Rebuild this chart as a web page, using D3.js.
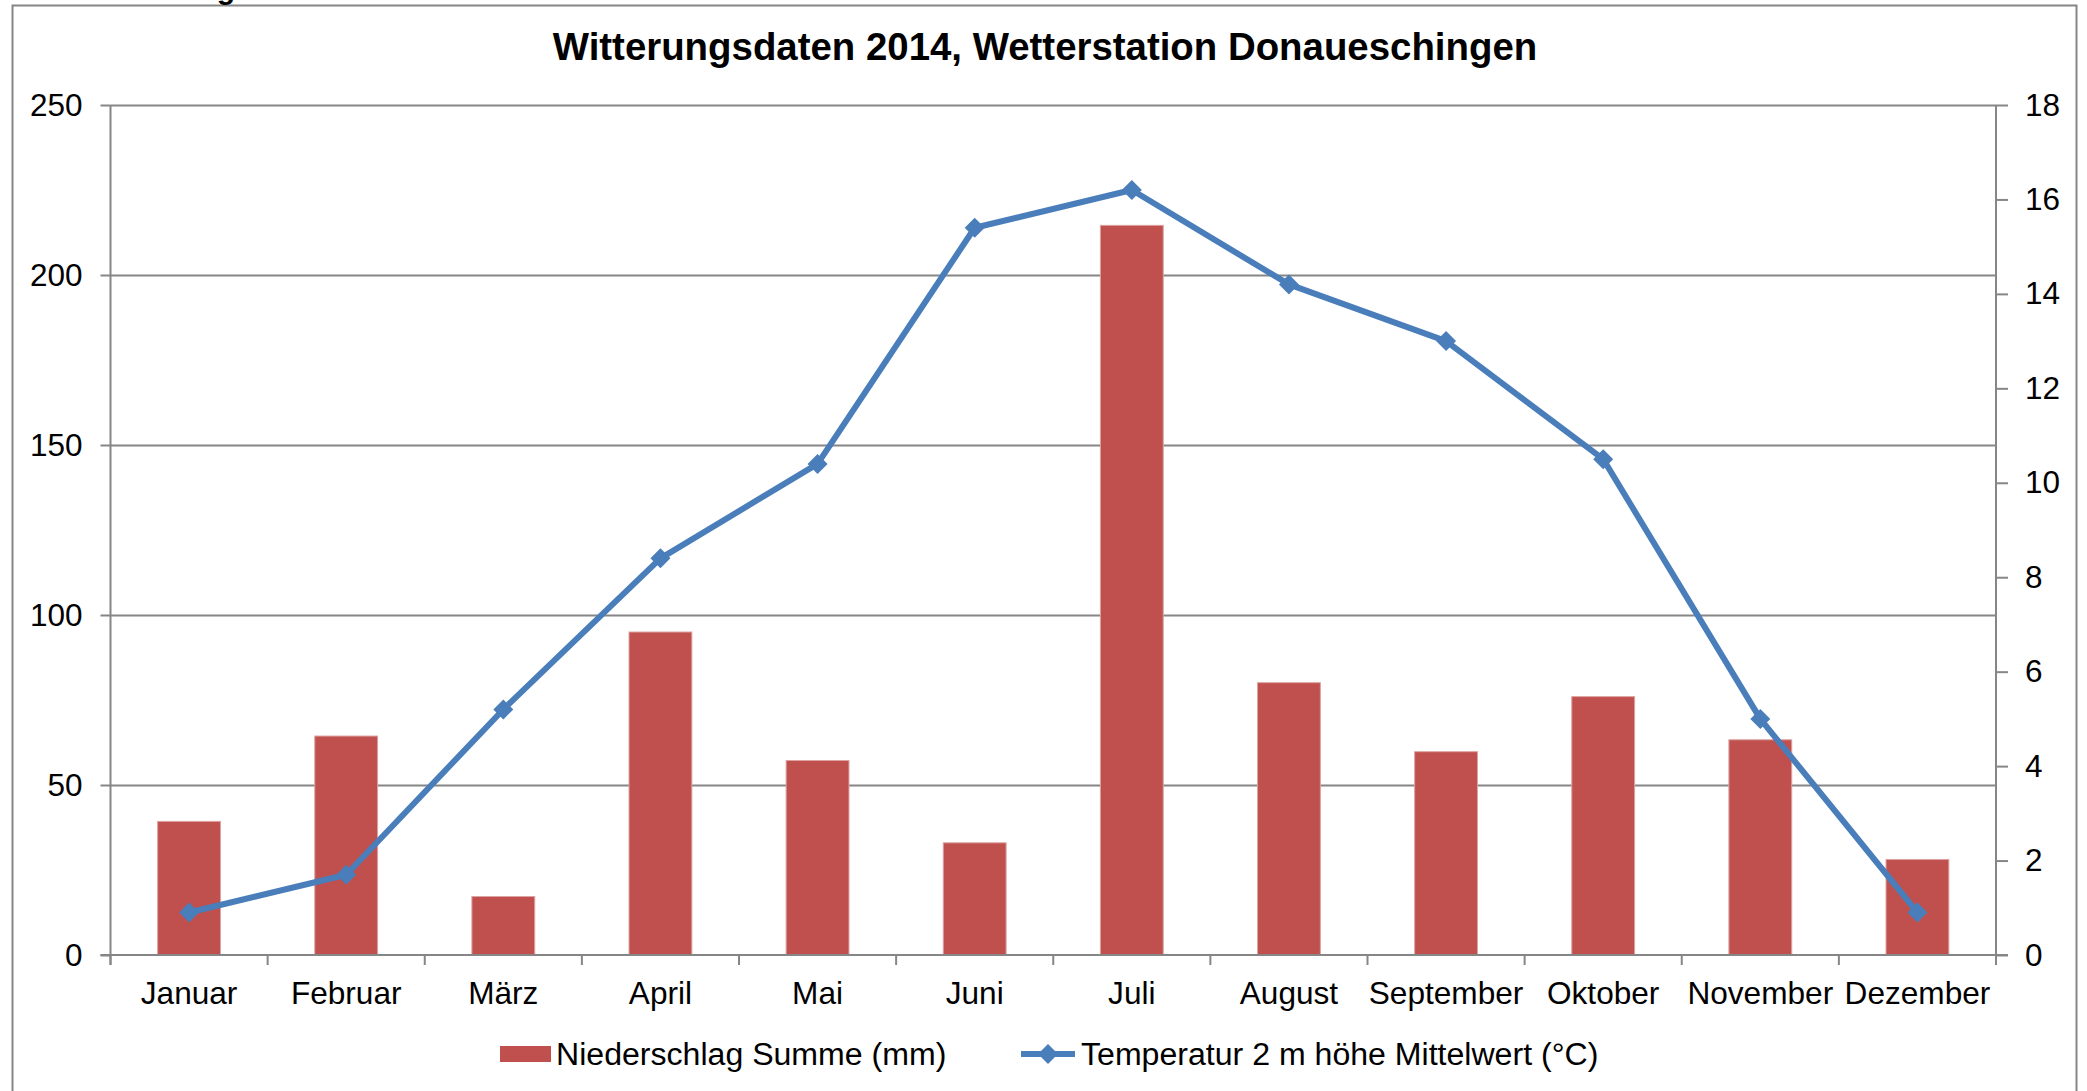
<!DOCTYPE html>
<html>
<head>
<meta charset="utf-8">
<script src="https://cdn.jsdelivr.net/npm/d3@7"></script>
<style>
  body { margin: 0; background: #fff; }
  svg { display: block; }
  text { font-family: "Liberation Sans", Arial, sans-serif; fill: #000; }
</style>
</head>
<body>
<div id="chart"></div>
<script>
var months = ["Januar", "Februar", "März", "April", "Mai", "Juni", "Juli", "August", "September", "Oktober", "November", "Dezember"]
var niederschlag = [39.3, 64.4, 17.2, 95, 57.2, 33, 214.6, 80.1, 59.8, 76, 63.3, 28.1]
var temperatur = [0.9, 1.7, 5.2, 8.4, 10.4, 15.4, 16.2, 14.2, 13.0, 10.5, 5.0, 0.9]
var leftTicks = [0, 50, 100, 150, 200, 250]
var rightTicks = [0, 2, 4, 6, 8, 10, 12, 14, 16, 18]

var W = 2087, H = 1091
// plot box (window.top is read-only, so no plain "top")
var pLeft = 110.5, pRight = 1996, pTop = 105, pBottom = 955
var grey = "#868686"
var barColor = "#c0504d", lineColor = "#4a7ebb"

var svg = d3.select("#chart").append("svg")
    .attr("width", W)
    .attr("height", H)

// outer frame of the chart object
svg.append("rect")
    .attr("x", 12.5).attr("y", 5.5)
    .attr("width", 2064).attr("height", 1100)
    .attr("fill", "none").attr("stroke", grey).attr("stroke-width", 2)

// leftover descender from text above the frame
svg.append("text")
    .attr("x", 226).attr("y", -1)
    .attr("text-anchor", "middle")
    .style("font-size", "30px").style("font-weight", "bold")
    .text("g")

svg.append("text")
    .attr("x", 1045).attr("y", 60)
    .attr("text-anchor", "middle")
    .style("font-size", "38.4px").style("font-weight", "bold")
    .text("Witterungsdaten 2014, Wetterstation Donaueschingen")

var x = d3.scaleBand().domain(months).range([pLeft, pRight]).paddingInner(0).paddingOuter(0)
var yL = d3.scaleLinear().domain([0, 250]).range([pBottom, pTop])
var yR = d3.scaleLinear().domain([0, 18]).range([pBottom, pTop])

// gridlines
svg.append("g")
    .attr("transform", "translate(" + pLeft + ",0)")
    .call(d3.axisLeft(yL).tickValues(leftTicks.slice(1)).tickSize(-(pRight - pLeft)).tickFormat(""))
    .call(function (g) { g.select(".domain").remove() })
    .selectAll("line").attr("stroke", grey).attr("stroke-width", 2)

// left axis
var gl = svg.append("g")
    .attr("transform", "translate(" + pLeft + ",0)")
    .call(d3.axisLeft(yL).tickValues(leftTicks).tickSize(10).tickPadding(18))
gl.select(".domain").attr("d", "M0," + pTop + "V" + (pBottom + 10)).attr("stroke", grey).attr("stroke-width", 2)
gl.selectAll("line").attr("stroke", grey).attr("stroke-width", 2)
gl.selectAll("text").style("font-size", "31.5px").attr("font-family", null).attr("fill", null)

// right axis
var gr = svg.append("g")
    .attr("transform", "translate(" + pRight + ",0)")
    .call(d3.axisRight(yR).tickValues(rightTicks).tickSize(12).tickPadding(17))
gr.select(".domain").attr("d", "M0," + pTop + "V" + (pBottom + 10)).attr("stroke", grey).attr("stroke-width", 2)
gr.selectAll("line").attr("stroke", grey).attr("stroke-width", 2)
gr.selectAll("text").style("font-size", "31.5px").attr("font-family", null).attr("fill", null)

// bars
var bw = x.bandwidth() * 0.4
svg.selectAll(".bar")
    .data(niederschlag)
    .enter().append("rect")
    .attr("class", "bar")
    .attr("x", function (d, i) { return x(months[i]) + (x.bandwidth() - bw) / 2 })
    .attr("y", function (d) { return yL(d) })
    .attr("width", bw)
    .attr("height", function (d) { return yL(0) - yL(d) })
    .attr("fill", barColor)
    .attr("stroke", "#dca3a2").attr("stroke-width", 1)

// x axis
var gx = svg.append("g")
    .attr("transform", "translate(0," + pBottom + ")")
    .call(d3.axisBottom(x).tickSize(0).tickPadding(0))
gx.select(".domain").attr("d", "M" + (pLeft - 10) + ",0H" + (pRight + 12)).attr("stroke", grey).attr("stroke-width", 2)
gx.selectAll("text").attr("y", 49).attr("dy", null).style("font-size", "31.6px").attr("font-family", null).attr("fill", null)
gx.selectAll(".sep")
    .data(months.concat(["end"]))
    .enter().append("line")
    .attr("class", "sep")
    .attr("x1", function (d, i) { return i < months.length ? x(d) : pRight })
    .attr("x2", function (d, i) { return i < months.length ? x(d) : pRight })
    .attr("y1", 0).attr("y2", 10)
    .attr("stroke", grey).attr("stroke-width", 2)

// temperature line
var line = d3.line()
    .x(function (d, i) { return x(months[i]) + x.bandwidth() / 2 })
    .y(function (d) { return yR(d) })

svg.append("path")
    .datum(temperatur)
    .attr("d", line)
    .attr("fill", "none")
    .attr("stroke", lineColor)
    .attr("stroke-width", 6)
    .attr("stroke-linejoin", "round")

var diamond = d3.symbol().type(d3.symbolSquare).size(200)
svg.selectAll(".pt")
    .data(temperatur)
    .enter().append("path")
    .attr("class", "pt")
    .attr("d", diamond)
    .attr("transform", function (d, i) {
        return "translate(" + (x(months[i]) + x.bandwidth() / 2) + "," + yR(d) + ") rotate(45)"
    })
    .attr("fill", lineColor)

// legend
var leg = svg.append("g").attr("transform", "translate(0,1054)")
leg.append("rect")
    .attr("x", 500).attr("y", -8).attr("width", 51).attr("height", 16)
    .attr("fill", barColor)
leg.append("text")
    .attr("x", 556).attr("y", 11)
    .style("font-size", "32.1px")
    .text("Niederschlag Summe (mm)")
leg.append("line")
    .attr("x1", 1021).attr("x2", 1075).attr("y1", 0).attr("y2", 0)
    .attr("stroke", lineColor).attr("stroke-width", 6)
leg.append("path")
    .attr("d", diamond)
    .attr("transform", "translate(1048,0) rotate(45)")
    .attr("fill", lineColor)
leg.append("text")
    .attr("x", 1081).attr("y", 11)
    .style("font-size", "32.1px")
    .text("Temperatur 2 m höhe Mittelwert (°C)")
</script>
</body>
</html>
